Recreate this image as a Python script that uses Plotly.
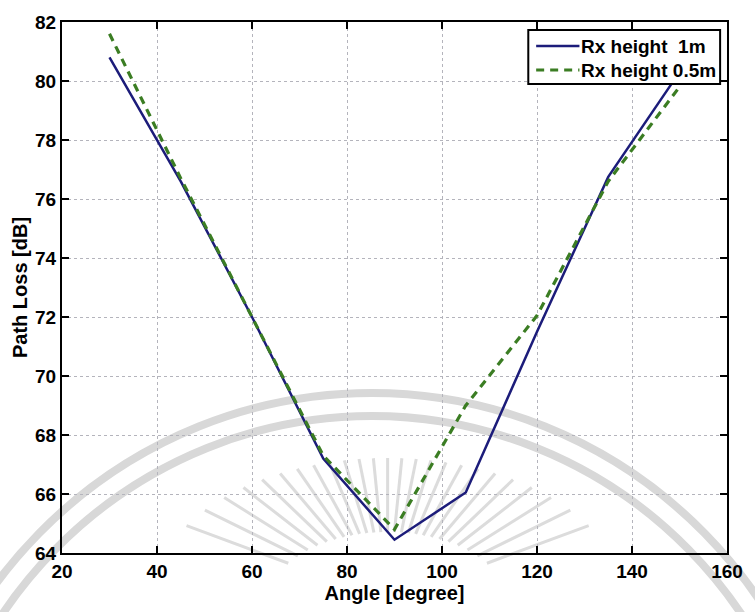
import math
import plotly.graph_objects as go

# Path loss versus receiver angle for two receiver heights
angle_deg = [30, 45, 60, 75, 90, 105, 120, 135, 150]
loss_rx_1m = [80.8, 76.6, 72.0, 67.2, 64.45, 66.05, 71.5, 76.75, 80.3]
loss_rx_05m = [81.6, 76.7, 72.0, 67.3, 64.8, 69.0, 72.05, 76.6, 79.8]

series_names = ["Rx height\u00a0\u00a01m", "Rx height 0.5m"]

x_ticks = [20, 40, 60, 80, 100, 120, 140, 160]
y_ticks = [64, 66, 68, 70, 72, 74, 76, 78, 80, 82]

W, H = 755, 612
ML, MR, MT, MB = 62, 17, 22, 59

FONT = "Liberation Sans, Arial, sans-serif"
BLUE = "#1c1c7a"
GREEN = "#3b7d23"

fig = go.Figure()

fig.add_trace(go.Scatter(
    x=angle_deg, y=loss_rx_1m, mode="lines", name=series_names[0],
    line=dict(color=BLUE, width=2.5), showlegend=False,
))
fig.add_trace(go.Scatter(
    x=angle_deg, y=loss_rx_05m, mode="lines", name=series_names[1],
    line=dict(color=GREEN, width=3.2, dash="8px,6px"), showlegend=False,
))


def px_x(p):
    return (p - ML) / (W - ML - MR)


def px_y(p):
    return 1 - (p - MT) / (H - MT - MB)


shapes = []
annotations = []

# faint seal in the background: two concentric rings and a sunburst
cx, cy = 377, 871
for r in (478, 455):
    shapes.append(dict(
        type="circle", xref="paper", yref="paper", layer="below",
        x0=px_x(cx - r), x1=px_x(cx + r), y0=px_y(cy + r), y1=px_y(cy - r),
        line=dict(color="#d8d8d8", width=8),
    ))
sx, sy = 393, 600
for k in range(25):
    a = math.radians(20 + k * 140 / 24)
    ca, sa = math.cos(a), math.sin(a)
    r_in = 1 / math.hypot(ca / 120, sa / 68)
    r_out = 1 / math.hypot(ca / 240, sa / 142)
    shapes.append(dict(
        type="line", xref="paper", yref="paper", layer="below",
        x0=px_x(sx + r_in * ca), y0=px_y(sy - r_in * sa),
        x1=px_x(sx + r_out * ca), y1=px_y(sy - r_out * sa),
        line=dict(color="#dcdcdc", width=3),
    ))

# legend box with line samples and labels
lx0, lx1, ly0, ly1 = 536, 731, 30, 84
shapes.append(dict(
    type="rect", xref="paper", yref="paper",
    x0=px_x(lx0), x1=px_x(lx1), y0=px_y(ly1), y1=px_y(ly0),
    fillcolor="white", line=dict(color="black", width=2), layer="above",
))
rows = [(46, BLUE, 2.5, "solid"), (70, GREEN, 3.2, "8px,6px")]
for (ry, col, lw, dash), name in zip(rows, series_names):
    shapes.append(dict(
        type="line", xref="paper", yref="paper", layer="above",
        x0=px_x(544), x1=px_x(588), y0=px_y(ry), y1=px_y(ry),
        line=dict(color=col, width=lw, dash=dash),
    ))
    annotations.append(dict(
        xref="paper", yref="paper", x=px_x(588), y=px_y(ry),
        xanchor="left", yanchor="middle", showarrow=False,
        text=f"<b>{name}</b>",
        font=dict(family=FONT, size=19, color="black"),
    ))

axis_common = dict(
    showline=True, linecolor="black", linewidth=2, mirror="ticks",
    ticks="inside", ticklen=7, tickwidth=2, tickcolor="black",
    showgrid=True, gridcolor="#b4b4bc", griddash="dot", gridwidth=1,
    zeroline=False,
    tickfont=dict(family=FONT, size=19, color="black"),
)

fig.update_layout(
    width=W, height=H,
    margin=dict(l=ML, r=MR, t=MT, b=MB),
    paper_bgcolor="white", plot_bgcolor="rgba(0,0,0,0)",
    shapes=shapes, annotations=annotations,
    xaxis=dict(
        range=[20, 160], tickvals=x_ticks,
        ticktext=[f"<b>{v}</b>" for v in x_ticks],
        title=dict(text="<b>Angle [degree]</b>", standoff=2,
                   font=dict(family=FONT, size=20, color="black")),
        **axis_common,
    ),
    yaxis=dict(
        range=[64, 82], tickvals=y_ticks,
        ticktext=[f"<b>{v}</b>" for v in y_ticks],
        title=dict(text="<b>Path Loss [dB]</b>", standoff=2,
                   font=dict(family=FONT, size=20, color="black")),
        **axis_common,
    ),
    showlegend=False,
)

fig.write_html("out.html")
